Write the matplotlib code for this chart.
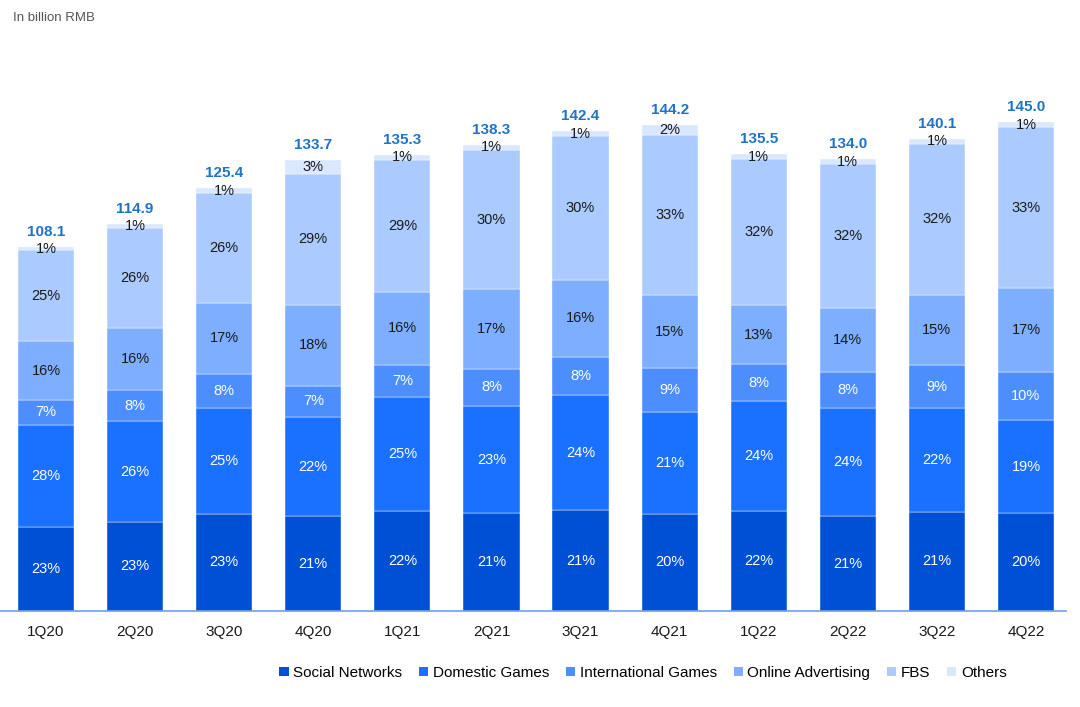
import numpy as np
import matplotlib.pyplot as plt
from matplotlib.patches import Patch

plt.rcParams['font.family'] = ['Liberation Sans', 'DejaVu Sans']

quarters = ['1Q20', '2Q20', '3Q20', '4Q20', '1Q21', '2Q21',
            '3Q21', '4Q21', '1Q22', '2Q22', '3Q22', '4Q22']
totals = [108.1, 114.9, 125.4, 133.7, 135.3, 138.3, 142.4, 144.2, 135.5, 134.0, 140.1, 145.0]

social = [23, 23, 23, 21, 22, 21, 21, 20, 22, 21, 21, 20]
domestic = [28, 26, 25, 22, 25, 23, 24, 21, 24, 24, 22, 19]
intl = [7, 8, 8, 7, 7, 8, 8, 9, 8, 8, 9, 10]
online_ad = [16, 16, 17, 18, 16, 17, 16, 15, 13, 14, 15, 17]
fbs = [25, 26, 26, 29, 29, 30, 30, 33, 32, 32, 32, 33]
others = [1, 1, 1, 3, 1, 1, 1, 2, 1, 1, 1, 1]

series = [social, domestic, intl, online_ad, fbs, others]
names = ['Social Networks', 'Domestic Games', 'International Games',
         'Online Advertising', 'FBS', 'Others']
colors = ['#0050D6', '#1A70FF', '#4D8EFF', '#7EAEFF', '#ABCBFF', '#D9E7FF']
text_colors = ['white', 'white', 'white', '#1a1a1a', '#1a1a1a', '#1a1a1a']

fig = plt.figure(figsize=(10.8, 7.07), dpi=100)
ax = fig.add_axes([0.0, 96 / 707, 1066 / 1080, 571 / 707])

x = np.arange(len(quarters))
pct = np.array(series, dtype=float)
tot = np.array(totals)
# segment heights: share of each quarter's total
vals = pct / pct.sum(axis=0) * tot

bottom = np.zeros(len(quarters))
for i in range(len(series)):
    ax.bar(x, vals[i], 0.63, bottom=bottom, color=colors[i],
           edgecolor='white', linewidth=0.3)
    for j in range(len(quarters)):
        yc = bottom[j] + vals[i][j] / 2
        ax.text(x[j], yc, f'{series[i][j]}%', ha='center', va='center',
                fontsize=10.5, color=text_colors[i])
    bottom += vals[i]

for j in range(len(quarters)):
    ax.text(x[j], tot[j] + 2.4, f'{totals[j]:.1f}', ha='center', va='bottom',
            fontsize=11, fontweight='bold', color='#1F74C8')

ax.set_xlim(-46 / 89.09, (1066 - 46) / 89.09)
ax.set_ylim(0, 571 / 3.37)
ax.set_xticks(x)
ax.set_xticklabels(quarters, fontsize=11, color='#1a1a1a')
ax.tick_params(axis='x', length=0, pad=10)
ax.set_yticks([])
for s in ['top', 'right', 'left']:
    ax.spines[s].set_visible(False)
ax.spines['bottom'].set_color('#6d9eeb')
ax.spines['bottom'].set_linewidth(1.2)

fig.text(13 / 1080, 1 - 18 / 707, 'In billion RMB', fontsize=9.5,
         color='#555555', va='center', ha='left')

handles = [Patch(facecolor=c, edgecolor='none') for c in colors]
fig.legend(handles, names, loc='center', bbox_to_anchor=(643 / 1080, 1 - 673 / 707),
           ncol=6, frameon=False, fontsize=11, handlelength=0.6, handleheight=0.6,
           handletextpad=0.3, columnspacing=1.1)

fig.savefig('out.png', dpi=100)
